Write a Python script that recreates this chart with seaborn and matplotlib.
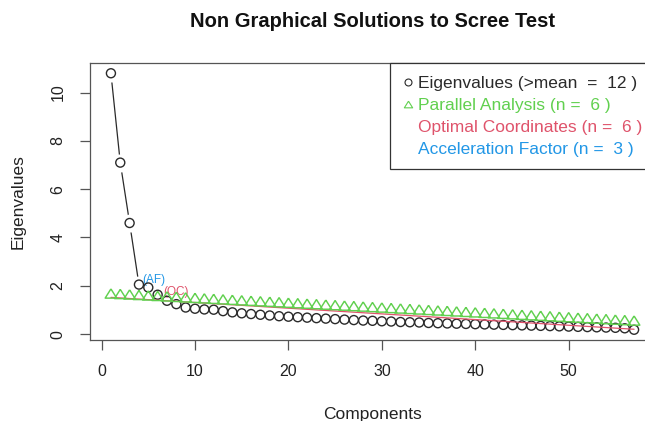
import seaborn as sns
import matplotlib.pyplot as plt
from matplotlib.lines import Line2D
import pandas as pd

# valores (nScree)
componentes = list(range(1, 58))
autovalores = [10.8, 7.1, 4.6, 2.05, 1.93, 1.63, 1.38, 1.24, 1.10, 1.05,
               1.02, 1.01, 0.95, 0.90, 0.86, 0.83, 0.80, 0.77, 0.74, 0.72,
               0.70, 0.68, 0.66, 0.64, 0.62, 0.60, 0.58, 0.56, 0.55, 0.53,
               0.52, 0.50, 0.49, 0.48, 0.46, 0.45, 0.44, 0.43, 0.42, 0.41,
               0.40, 0.39, 0.38, 0.37, 0.36, 0.35, 0.34, 0.33, 0.32, 0.31,
               0.30, 0.29, 0.28, 0.27, 0.26, 0.24, 0.18]
paralela = [1.68, 1.66, 1.64, 1.62, 1.60, 1.58, 1.56, 1.54, 1.52, 1.50,
            1.48, 1.46, 1.44, 1.42, 1.40, 1.38, 1.36, 1.34, 1.32, 1.30,
            1.28, 1.26, 1.24, 1.22, 1.20, 1.18, 1.16, 1.14, 1.12, 1.10,
            1.08, 1.06, 1.04, 1.02, 1.00, 0.98, 0.96, 0.94, 0.92, 0.90,
            0.88, 0.86, 0.84, 0.82, 0.80, 0.78, 0.76, 0.74, 0.72, 0.70,
            0.68, 0.66, 0.64, 0.62, 0.60, 0.58, 0.56]
# reta das coordenadas ótimas (extremos)
oc_x = [1, 57]
oc_y = [1.52, 0.20]

n_kaiser = 12
n_pa = 6
n_oc = 6
n_af = 3

preto = "#2a2a2a"
vermelho = "#DF536B"
verde = "#61D04F"
azul = "#2297E6"

dados = pd.DataFrame({"comp": componentes, "eig": autovalores, "pa": paralela})

sns.set_theme(style="ticks")
plt.rcParams['font.family'] = ['Liberation Sans', 'DejaVu Sans']

fig = plt.figure(figsize=(6.45, 4.21), dpi=100)
ax = fig.add_axes([90 / 645, 81 / 421, 565 / 645, 277 / 421])

# triângulo do R (pch = 2)
triangulo = [(0, 0.8), (-1, -0.8), (1, -0.8), (0, 0.8)]

# autovalores: linha tipo "b" (com espaços em volta dos pontos)
sns.lineplot(data=dados, x="comp", y="eig", color=preto, linewidth=0.9, ax=ax)
ax.scatter(dados["comp"], dados["eig"], s=13 ** 2, color="white", zorder=3, linewidths=0)
sns.scatterplot(data=dados, x="comp", y="eig", marker="o", s=6.5 ** 2,
                facecolor="none", edgecolor=preto, linewidth=1.0, zorder=4, ax=ax)

# coordenadas ótimas
sns.lineplot(x=oc_x, y=oc_y, color=vermelho, linewidth=0.9, ax=ax, zorder=5)

# análise paralela
sns.scatterplot(data=dados, x="comp", y="pa", marker=triangulo, s=8.3 ** 2,
                facecolor="none", edgecolor=verde, linewidth=1.05, zorder=6, ax=ax)

ax.annotate("(AF)", xy=(componentes[n_af], autovalores[n_af]), xytext=(2.5, 3.0),
            textcoords="offset points", ha="left", va="center", color=azul, fontsize=8.5)
ax.annotate("(OC)", xy=(componentes[n_oc - 1], autovalores[n_oc - 1]), xytext=(4, 1.6),
            textcoords="offset points", ha="left", va="center", color=vermelho, fontsize=8.5)

n = len(componentes)
ax.set_xlim(1 - 0.04 * (n - 1), n + 0.04 * (n - 1))
faixa = max(autovalores) - min(autovalores)
ax.set_ylim(min(autovalores) - 0.04 * faixa, max(autovalores) + 0.04 * faixa)
ax.set_xticks([0, 10, 20, 30, 40, 50])
ax.set_yticks([0, 2, 4, 6, 8, 10])

for s in ax.spines.values():
    s.set_color("#555555")
    s.set_linewidth(0.9)
    s.set_visible(True)
ax.tick_params(axis="both", direction="out", length=7.5, width=0.9, color="#555555",
               labelsize=11.5, labelcolor="#222222")
ax.tick_params(axis="x", pad=10)
ax.tick_params(axis="y", pad=10)
for t in ax.get_yticklabels():
    t.set_rotation(90)
    t.set_va("center")

ax.set_xlabel("Components", fontsize=12.5, color="#222222")
ax.set_ylabel("Eigenvalues", fontsize=12.5, color="#222222")
ax.xaxis.set_label_coords(0.5, -0.27)
ax.xaxis.label.set_va("center")
ax.yaxis.set_label_coords(-0.1274, 0.5)
ax.yaxis.label.set_va("center")
ax.set_title("Non Graphical Solutions to Scree Test", fontsize=14.5, fontweight="bold",
             y=1.15, pad=0, va="center", color="#111111")

handles = [
    Line2D([], [], linestyle="none", marker="o", markersize=5, markerfacecolor="none",
           markeredgecolor=preto, markeredgewidth=0.8),
    Line2D([], [], linestyle="none", marker=triangulo, markersize=6, markerfacecolor="none",
           markeredgecolor=verde, markeredgewidth=0.8),
    Line2D([], [], linestyle="none"),
    Line2D([], [], linestyle="none"),
]
rotulos = [
    f"Eigenvalues (>mean  =  {n_kaiser} )",
    f"Parallel Analysis (n =  {n_pa} )",
    f"Optimal Coordinates (n =  {n_oc} )",
    f"Acceleration Factor (n =  {n_af} )",
]
leg = ax.legend(handles, rotulos, loc="upper right", borderaxespad=0, fancybox=False,
                edgecolor="#333333", fontsize=12.5, labelcolor=[preto, verde, vermelho, azul],
                handlelength=0.6, handletextpad=0.3, labelspacing=0.4, borderpad=0.72,
                framealpha=1)
leg.get_frame().set_linewidth(0.9)

try:
    plt.savefig("out.png", dpi=100)
    print("Gráfico salvo com sucesso!")
except Exception as e:
    print("Erro ao salvar o gráfico:", e)
